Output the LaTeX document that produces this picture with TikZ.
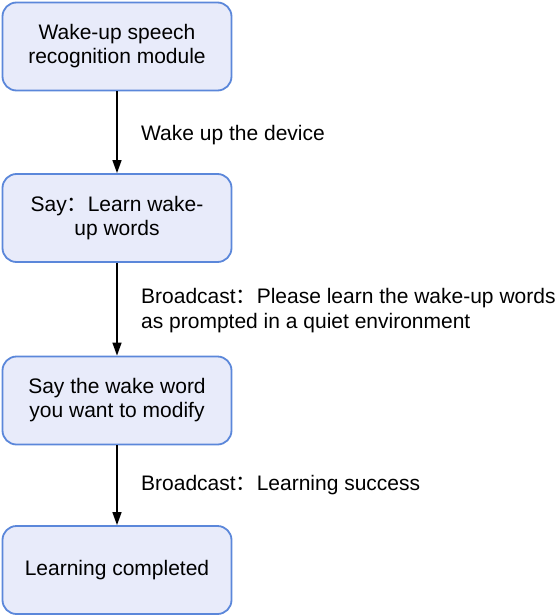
\documentclass[tikz,border=0pt]{standalone}
\usepackage{fontspec}
\setmainfont{Liberation Sans}
\newfontfamily\cjk{Noto Sans CJK SC}
\usetikzlibrary{positioning,arrows.meta}
\definecolor{boxfill}{HTML}{E8EBFA}
\definecolor{boxline}{HTML}{5B87DA}

\begin{document}
\begin{tikzpicture}[x=1pt,y=-1pt,
    stepbox/.style={draw=boxline, fill=boxfill, line width=1.8pt, rounded corners=14pt,
        minimum width=229pt, minimum height=88pt, align=center,
        font=\fontsize{21}{24}\selectfont},
    flow/.style={-{Triangle[length=13pt,width=9pt]}, line width=1.5pt},
    msg/.style={anchor=west, align=left, inner sep=0pt, font=\fontsize{21}{25}\selectfont}]
    \useasboundingbox (0,0) rectangle (559,616);

    \node[stepbox] (wake) at (117,46.5) {Wake-up speech\\recognition module};
    \node[stepbox] (say) at (117,218) {Say{\cjk ：}Learn wake-\\up words};
    \node[stepbox] (word) at (117,400.5) {Say the wake word\\you want to modify};
    \node[stepbox] (done) at (117,570) {Learning completed};

    \draw[flow] (wake) -- (say);
    \draw[flow] (say) -- (word);
    \draw[flow] (word) -- (done);

    \node[msg] (m1) at (141,135) {Wake up the device};
    \node[msg] (m2) at (141,310.5) {Broadcast{\cjk ：}Please learn the wake-up words\\as prompted in a quiet environment};
    \node[msg] (m3) at (141,485) {Broadcast{\cjk ：}Learning success};
\end{tikzpicture}
\end{document}
